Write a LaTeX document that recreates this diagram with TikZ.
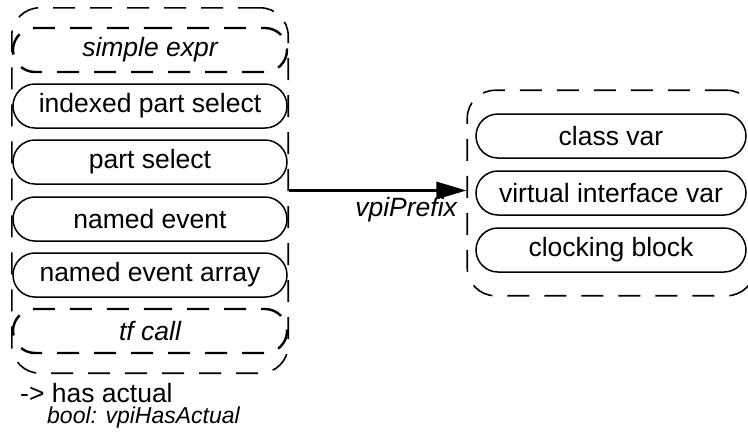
\documentclass[tikz,border=0pt]{standalone}
\usepackage{fontspec}
\setmainfont{Liberation Sans}
\usepackage{tikz}
\usetikzlibrary{positioning,backgrounds,arrows.meta,fit,shapes.misc}

\begin{document}
\begin{tikzpicture}[
  x=1pt, y=-1pt,
  every node/.style={font=\fontsize{26.5}{30}\selectfont},
  obj/.style={draw, line width=1.5pt, rounded rectangle,
    minimum width=274pt, minimum height=44pt, inner sep=0pt},
  absobj/.style={obj, dash pattern=on 22pt off 15pt, line width=2.4pt,
    font=\fontsize{26.5}{30}\selectfont\itshape},
  group/.style={draw, dash pattern=on 22pt off 15pt, line width=1.6pt,
    rounded corners=28pt, inner sep=0pt},
  note/.style={anchor=west, inner sep=0pt},
  arr/.style={-{Triangle[length=30pt,width=17pt]}, line width=3pt},
]
\useasboundingbox (0,0) rectangle (748,437);

% left side: prefix objects
\node[absobj]  at (150, 50) (simpleexpr) {simple expr};
\node[obj]     at (150,106) (idxpartsel) {indexed part select};
\node[obj]     at (150,162) (partsel)    {part select};
\node[obj]     at (150,219) (namedev)    {named event};
\node[obj]     at (150,275) (namedevarr) {named event array};
\node[absobj]  at (150,331) (tfcall)     {tf call};

% right side: what the prefix can be
\node[obj, minimum width=270pt] at (611,136) (classvar)  {class var};
\node[obj, minimum width=270pt] at (611,193) (virtifvar) {virtual interface var};
\node[obj, minimum width=270pt] at (611,250) (clockblk)  {clocking block};

\begin{pgfonlayer}{background}
\node[group, inner ysep=19pt, fit=(simpleexpr)(tfcall)] (lgrp) {};
\node[group, inner xsep=8pt, inner ysep=23pt, fit=(classvar)(clockblk)] (rgrp) {};
\end{pgfonlayer}

\draw[arr] (lgrp.east) -- (lgrp.east -| rgrp.west)
  node[pos=0.66, below=2pt, font=\fontsize{26.5}{30}\selectfont\itshape] (pfx) {vpiPrefix};

\node[note] at (20,393) (hasact) {-> has actual};
\node[note, font=\fontsize{23}{27}\selectfont\itshape] at (47,418) (hasactbool) {bool: vpiHasActual};
\end{tikzpicture}
\end{document}
